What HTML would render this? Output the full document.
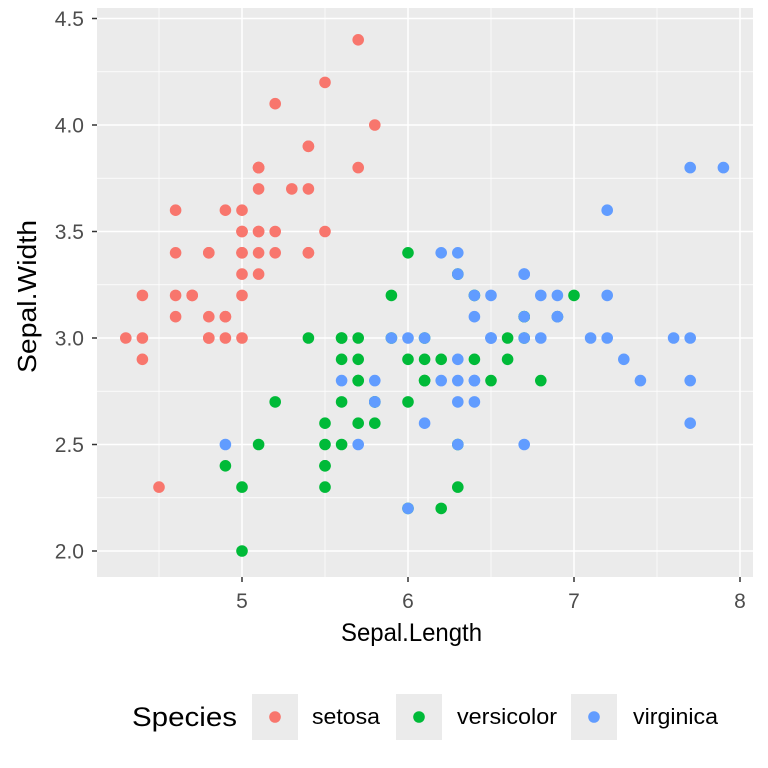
<!DOCTYPE html>
<html><head><meta charset="utf-8"><style>body{margin:0;background:#fff}svg{display:block;font-family:"Liberation Sans",sans-serif}</style></head>
<body>
<svg id="s" width="768" height="768" xmlns="http://www.w3.org/2000/svg">
<rect x="97" y="8" width="656" height="569" fill="#EBEBEB"/>
<g id="grid"></g>
<g id="pts"></g>
<g id="axes" font-size="21" fill="#4D4D4D"></g>
<text x="341" y="641" font-size="25" textLength="141" lengthAdjust="spacingAndGlyphs" fill="#000">Sepal.Length</text>
<text transform="translate(36,373) rotate(-90)" font-size="26" textLength="153" lengthAdjust="spacingAndGlyphs" fill="#000">Sepal.Width</text>
<text x="132" y="726" font-size="27" textLength="105" lengthAdjust="spacingAndGlyphs" fill="#000">Species</text>
<rect x="252" y="694" width="46" height="46" fill="#EBEBEB"/>
<circle cx="275" cy="717" r="5.8" fill="#F8766D"/>
<text x="312" y="724" font-size="22" textLength="68" lengthAdjust="spacingAndGlyphs">setosa</text>
<rect x="396" y="694" width="46" height="46" fill="#EBEBEB"/>
<circle cx="419" cy="717" r="5.8" fill="#00BA38"/>
<text x="457" y="724" font-size="22" textLength="100" lengthAdjust="spacingAndGlyphs">versicolor</text>
<rect x="571" y="694" width="46" height="46" fill="#EBEBEB"/>
<circle cx="594" cy="717" r="5.8" fill="#619CFF"/>
<text x="633" y="724" font-size="22" textLength="85" lengthAdjust="spacingAndGlyphs">virginica</text>
</svg>
<script>
var NS="http://www.w3.org/2000/svg";
function X(v){return 242+(v-5)*166}
function Y(v){return 551-(v-2)*213}
function el(p,t,a){var e=document.createElementNS(NS,t);for(var k in a)e.setAttribute(k,a[k]);p.appendChild(e);return e}
var g=document.getElementById('grid'),ax=document.getElementById('axes');
[4.5,5.5,6.5,7.5].forEach(function(v){el(g,'line',{x1:X(v),x2:X(v),y1:8,y2:577,stroke:'#fff','stroke-width':0.7})});
[2.25,2.75,3.25,3.75,4.25].forEach(function(v){el(g,'line',{y1:Y(v),y2:Y(v),x1:97,x2:753,stroke:'#fff','stroke-width':0.7})});
[5,6,7,8].forEach(function(v){el(g,'line',{x1:X(v),x2:X(v),y1:8,y2:577,stroke:'#fff','stroke-width':1.5});
el(ax,'line',{x1:X(v),x2:X(v),y1:577,y2:582,stroke:'#333','stroke-width':1.5});
var t=el(ax,'text',{x:X(v),y:608,'text-anchor':'middle'});t.textContent=v;});
["2.0","2.5","3.0","3.5","4.0","4.5"].forEach(function(s){var v=+s;el(g,'line',{y1:Y(v),y2:Y(v),x1:97,x2:753,stroke:'#fff','stroke-width':1.5});
el(ax,'line',{y1:Y(v),y2:Y(v),x1:92,x2:97,stroke:'#333','stroke-width':1.5});
var t=el(ax,'text',{x:84,y:Y(v)+7.5,'text-anchor':'end'});t.textContent=s;});
var d=[
"5.1 3.5,4.9 3.0,4.7 3.2,4.6 3.1,5.0 3.6,5.4 3.9,4.6 3.4,5.0 3.4,4.4 2.9,4.9 3.1,5.4 3.7,4.8 3.4,4.8 3.0,4.3 3.0,5.8 4.0,5.7 4.4,5.4 3.9,5.1 3.5,5.7 3.8,5.1 3.8,5.4 3.4,5.1 3.7,4.6 3.6,5.1 3.3,4.8 3.4,5.0 3.0,5.0 3.4,5.2 3.5,5.2 3.4,4.7 3.2,4.8 3.1,5.4 3.4,5.2 4.1,5.5 4.2,4.9 3.1,5.0 3.2,5.5 3.5,4.9 3.6,4.4 3.0,5.1 3.4,5.0 3.5,4.5 2.3,4.4 3.2,5.0 3.5,5.1 3.8,4.8 3.0,5.1 3.8,4.6 3.2,5.3 3.7,5.0 3.3",
"7.0 3.2,6.4 3.2,6.9 3.1,5.5 2.3,6.5 2.8,5.7 2.8,6.3 3.3,4.9 2.4,6.6 2.9,5.2 2.7,5.0 2.0,5.9 3.0,6.0 2.2,6.1 2.9,5.6 2.9,6.7 3.1,5.6 3.0,5.8 2.7,6.2 2.2,5.6 2.5,5.9 3.2,6.1 2.8,6.3 2.5,6.1 2.8,6.4 2.9,6.6 3.0,6.8 2.8,6.7 3.0,6.0 2.9,5.7 2.6,5.5 2.4,5.5 2.4,5.8 2.7,6.0 2.7,5.4 3.0,6.0 3.4,6.7 3.1,6.3 2.3,5.6 3.0,5.5 2.5,5.5 2.6,6.1 3.0,5.8 2.6,5.0 2.3,5.6 2.7,5.7 3.0,5.7 2.9,6.2 2.9,5.1 2.5,5.7 2.8",
"6.3 3.3,5.8 2.7,7.1 3.0,6.3 2.9,6.5 3.0,7.6 3.0,4.9 2.5,7.3 2.9,6.7 2.5,7.2 3.6,6.5 3.2,6.4 2.7,6.8 3.0,5.7 2.5,5.8 2.8,6.4 3.2,6.5 3.0,7.7 3.8,7.7 2.6,6.0 2.2,6.9 3.2,5.6 2.8,7.7 2.8,6.3 2.7,6.7 3.3,7.2 3.2,6.2 2.8,6.1 3.0,6.4 2.8,7.2 3.0,7.4 2.8,7.9 3.8,6.4 2.8,6.3 2.8,6.1 2.6,7.7 3.0,6.3 3.4,6.4 3.1,6.0 3.0,6.9 3.1,6.7 3.1,6.9 3.1,5.8 2.7,6.8 3.2,6.7 3.3,6.7 3.0,6.3 2.5,6.5 3.0,6.2 3.4,5.9 3.0"];
var c=["#F8766D","#00BA38","#619CFF"],p=document.getElementById('pts');
d.forEach(function(s,i){s.split(',').forEach(function(q){var a=q.split(' ');el(p,'circle',{cx:X(+a[0]),cy:Y(+a[1]),r:5.8,fill:c[i]})})});
</script>
</body></html>
